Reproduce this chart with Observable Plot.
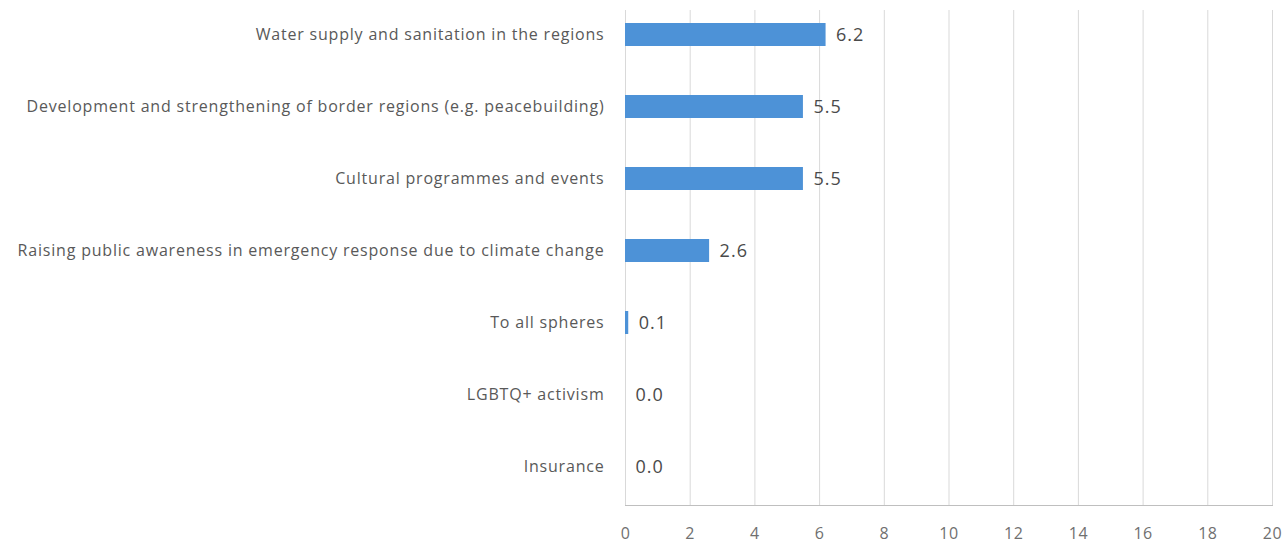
<!DOCTYPE html>
<html><head><meta charset="utf-8">
<script src="https://cdn.jsdelivr.net/npm/d3@7"></script>
<script src="https://cdn.jsdelivr.net/npm/@observablehq/plot@0.6"></script>
<style>
body{margin:0;background:#fff;} svg{display:block;}
.ylab text{letter-spacing:0.8px;}
.vlab text{letter-spacing:1px;}
.xlab text{letter-spacing:0.5px;}
</style>
</head><body><div id="chart"></div>
<script>
const categories = [
  "Water supply and sanitation in the regions",
  "Development and strengthening of border regions (e.g. peacebuilding)",
  "Cultural programmes and events",
  "Raising public awareness in emergency response due to climate change",
  "To all spheres",
  "LGBTQ+ activism",
  "Insurance"
];
const values = [6.2, 5.5, 5.5, 2.6, 0.1, 0.0, 0.0];
const xTicks = [0, 2, 4, 6, 8, 10, 12, 14, 16, 18, 20];

const data = categories.map((c, i) => ({category: c, value: values[i]}));
const font = "'Open Sans', Lato, sans-serif";

const chart = Plot.plot({
  width: 1288,
  height: 549,
  marginLeft: 625,
  marginRight: 16,
  marginTop: 10,
  marginBottom: 44,
  style: {fontFamily: font, fontSize: "14px", color: "#595959", background: "#fff"},
  x: {domain: [0, 20], ticks: xTicks, label: null},
  y: {domain: categories, label: null, range: [-4, 505], paddingInner: 0.68, paddingOuter: 0.34},
  marks: [
    Plot.gridX(xTicks, {stroke: "#d9d9d9", strokeOpacity: 1, strokeWidth: 1}),
    Plot.frame({anchor: "bottom", stroke: "#bfbfbf"}),
    Plot.barX(data, {y: "category", x: "value", fill: "#4d92d7"}),
    Plot.text(data, {y: "category", x: "value", text: d => d.value.toFixed(1), textAnchor: "start", dx: 10, fill: "#4a4a4a", fontSize: 18, className: "vlab"}),
    Plot.axisX({ticks: xTicks, tickSize: 0, tickPadding: 22, fontSize: 16, fill: "#707070", label: null, className: "xlab"}),
    Plot.axisY({tickSize: 0, tickPadding: 21, fontSize: 16, fill: "#595959", label: null, className: "ylab"})
  ]
});
document.getElementById("chart").appendChild(chart);
</script>
</body></html>
